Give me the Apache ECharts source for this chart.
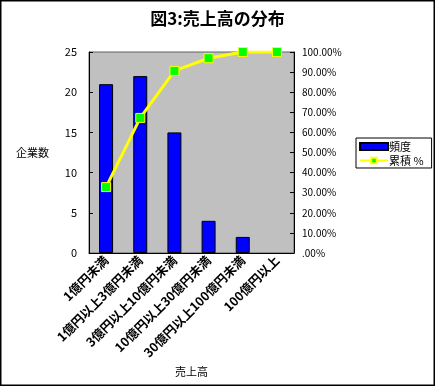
<!DOCTYPE html>
<html><head><meta charset="utf-8">
<script src="https://cdn.jsdelivr.net/npm/echarts@6/dist/echarts.min.js"></script>
<style>html,body{margin:0;padding:0;background:#fff}#c{width:435px;height:386px}</style>
</head><body><div id="c"></div>
<script>
const categories = ['1億円未満','1億円以上3億円未満','3億円以上10億円未満','10億円以上30億円未満','30億円以上100億円未満','100億円以上'];
const frequency = [21, 22, 15, 4, 2, 0];
const cumulative = [0.328, 0.672, 0.906, 0.969, 1.0, 1.0];
const FONT = '"Noto Sans CJK JP", "DejaVu Sans", sans-serif';
const chart = echarts.init(document.getElementById('c'));
chart.setOption({
  animation: false,
  backgroundColor: '#fff',
  textStyle: {fontFamily: FONT},
  graphic: [{type:'rect', shape:{x:0.5,y:0.5,width:434,height:385}, style:{fill:'none', stroke:'#000', lineWidth:2}}],
  title: {text: '図3:売上高の分布', left: 'center', top: 5, textStyle:{fontFamily: FONT, fontSize: 17, fontWeight: 'bold', color:'#000'}},
  legend: {
    orient: 'vertical', left: 356, top: 138, padding: [3,8,2,3], itemGap: 3,
    backgroundColor: '#fff', borderColor: '#000', borderWidth: 1, borderRadius: 0,
    itemWidth: 28, itemHeight: 7,
    textStyle: {fontFamily: FONT, fontSize: 11, color:'#000', padding: [0,0,0,-4]},
    data: [{name:'頻度', icon:'rect'}, {name:'累積 %'}]
  },
  grid: {left: 89, right: 141, top: 52, bottom: 133, show: true, backgroundColor: '#c0c0c0', borderColor: '#606060', borderWidth: 1},
  xAxis: {
    type: 'category', data: categories, boundaryGap: true,
    name: '売上高', nameLocation: 'middle', nameGap: 113, nameMoveOverlap: false,
    nameTextStyle: {fontFamily: FONT, fontSize: 11, color:'#000'},
    axisLine: {lineStyle:{color:'#000'}},
    axisTick: {inside: true, length: 4, lineStyle:{color:'#000'}},
    axisLabel: {rotate: 45, interval: 0, fontFamily: FONT, fontSize: 12.5, fontWeight: 'bold', color:'#000', margin: 5}
  },
  yAxis: [{
    type: 'value', min: 0, max: 25, interval: 5,
    name: '企業数', nameLocation: 'middle', nameRotate: 0, nameGap: 40,
    nameTextStyle: {fontFamily: FONT, fontSize: 11, color:'#000'},
    axisLine: {show: true, lineStyle:{color:'#000'}},
    axisTick: {show: true, inside: true, length: 4, lineStyle:{color:'#000'}},
    splitLine: {show: false},
    axisLabel: {fontFamily: FONT, fontSize: 11, color:'#000', margin: 12}
  }, {
    type: 'value', min: 0, max: 1, interval: 0.1, position: 'right',
    axisLine: {show: true, lineStyle:{color:'#000'}},
    axisTick: {show: true, inside: true, length: 4, lineStyle:{color:'#000'}},
    splitLine: {show: false},
    axisLabel: {fontFamily: FONT, fontSize: 10, color:'#000', margin: 8,
      formatter: v => { const s = (v*100).toFixed(2); return (v === 0 ? '.00' : s) + '%'; }}
  }],
  series: [{
    name: '頻度', type: 'bar', barWidth: 14,
    data: frequency.map(v => v === 0 ? {value: v, itemStyle: {borderWidth: 0}} : v),
    itemStyle: {color: '#0000ff', borderColor: '#000', borderWidth: 1}
  }, {
    name: '累積 %', type: 'line', yAxisIndex: 1, data: cumulative,
    lineStyle: {color: '#ffff00', width: 3},
    symbol: 'rect', symbolSize: 9,
    itemStyle: {color: '#00ff00', borderColor: '#ffff00', borderWidth: 1}
  }]
});
</script></body></html>
